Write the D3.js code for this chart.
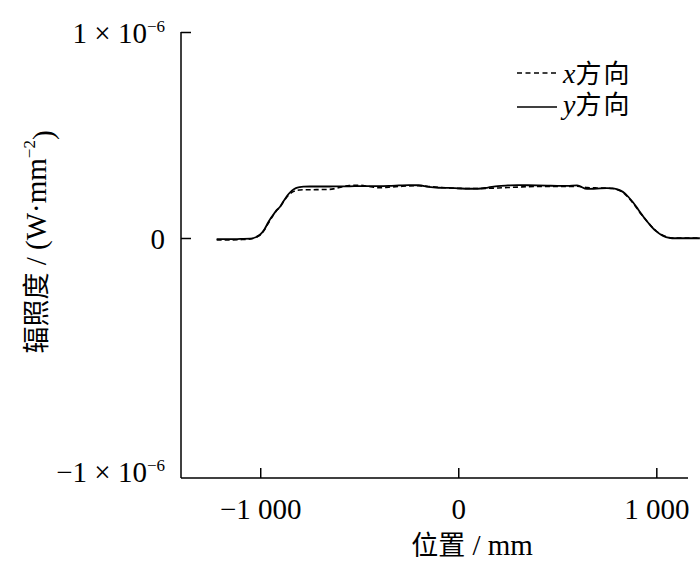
<!DOCTYPE html>
<html>
<head>
<meta charset="utf-8">
<script src="https://cdn.jsdelivr.net/npm/d3@7"></script>
<style>
  html, body { margin: 0; padding: 0; background: #fff; }
  svg { display: block; }
  text { font-family: "Liberation Serif", "Times New Roman", "Noto Sans CJK SC", serif; fill: #000; }
</style>
</head>
<body>
<svg id="chart" width="700" height="565"></svg>
<script>
// ---------- data ----------
const positions = [-1220, -1150, -1100, -1050, -1020, -1000, -980, -960, -940, -920, -900, -880, -860, -840, -820, -800, -780, -750, -700, -650, -600, -550, -500, -450, -400, -350, -300, -250, -200, -150, -100, -50, 0, 50, 100, 150, 200, 250, 300, 350, 400, 450, 500, 550, 600, 650, 700, 750, 780, 800, 820, 840, 860, 880, 900, 920, 940, 960, 980, 1000, 1020, 1040, 1060, 1080, 1100, 1150, 1220];

// irradiance, in units of 1e-6 W·mm^-2
const yDirection = [-0.005, -0.005, -0.004, -0.003, 0.005, 0.017, 0.040, 0.075, 0.105, 0.132, 0.152, 0.182, 0.210, 0.230, 0.242, 0.247, 0.249, 0.250, 0.250, 0.250, 0.251, 0.251, 0.252, 0.252, 0.252, 0.253, 0.255, 0.257, 0.256, 0.248, 0.244, 0.243, 0.241, 0.239, 0.239, 0.245, 0.252, 0.255, 0.257, 0.256, 0.255, 0.254, 0.253, 0.253, 0.255, 0.238, 0.240, 0.242, 0.241, 0.237, 0.230, 0.218, 0.198, 0.176, 0.150, 0.122, 0.097, 0.073, 0.050, 0.032, 0.018, 0.008, 0.002, -0.001, -0.001, -0.001, -0.001];

const xDirection = [-0.008, -0.008, -0.007, -0.004, 0.004, 0.015, 0.038, 0.070, 0.102, 0.130, 0.150, 0.180, 0.205, 0.222, 0.230, 0.233, 0.234, 0.234, 0.235, 0.236, 0.245, 0.255, 0.256, 0.250, 0.244, 0.247, 0.250, 0.253, 0.254, 0.250, 0.246, 0.243, 0.241, 0.240, 0.240, 0.241, 0.243, 0.245, 0.247, 0.249, 0.250, 0.250, 0.250, 0.250, 0.251, 0.245, 0.243, 0.242, 0.240, 0.236, 0.228, 0.214, 0.195, 0.172, 0.147, 0.120, 0.096, 0.073, 0.052, 0.034, 0.020, 0.010, 0.003, 0.000, 0.000, 0.000, 0.000];

const xTickValues = [-1000, 0, 1000];
const xTickLabels = ["\u22121 000", "0", "1 000"];
const yTickValues = [-1, 0, 1];            // ×1e-6
const yTickMantissa = ["\u22121 \u00d7 10", "0", "1 \u00d7 10"];
const yTickExponent = ["\u22126", "", "\u22126"];
const seriesNames = ["x", "y"];
const legendSuffix = "方向";

// ---------- layout ----------
const svg = d3.select("#chart");
const mLeft = 181, mRight = 688, mTop = 32, mBottom = 478;
const fs = 29;

const x = d3.scaleLinear().domain([-1400, 1160]).range([mLeft, mRight]);
const y = d3.scaleLinear().domain([-1, 0, 1]).range([471, 238, mTop]);

// axes lines
svg.append("line").attr("x1", mLeft).attr("x2", mLeft).attr("y1", y(1)).attr("y2", mBottom)
  .attr("stroke", "#000").attr("stroke-width", 1.5);
svg.append("line").attr("x1", mLeft).attr("x2", mRight).attr("y1", mBottom).attr("y2", mBottom)
  .attr("stroke", "#000").attr("stroke-width", 1.5);

// x axis
const xAxis = d3.axisBottom(x).tickValues(xTickValues).tickSize(-10).tickPadding(20)
  .tickFormat((d, i) => xTickLabels[i]);
const gx = svg.append("g").attr("transform", `translate(0,${mBottom})`).call(xAxis);
gx.select(".domain").remove();
gx.selectAll(".tick line").attr("stroke-width", 1.5);
gx.selectAll(".tick text").attr("font-size", fs).attr("font-family", "Liberation Serif");

// y axis
const yAxis = d3.axisLeft(y).tickValues(yTickValues).tickSize(-10).tickPadding(16)
  .tickFormat(() => "");
const gy = svg.append("g").attr("transform", `translate(${mLeft},0)`).call(yAxis);
gy.select(".domain").remove();
gy.selectAll(".tick line").attr("stroke-width", 1.5)
  .attr("opacity", d => d === -1 ? 0 : 1);
gy.selectAll(".tick text").each(function(d, i) {
  const t = d3.select(this).attr("font-size", fs).attr("font-family", "Liberation Serif").attr("dy", "0.36em");
  t.append("tspan").text(yTickMantissa[i]);
  if (yTickExponent[i]) {
    t.append("tspan").attr("font-size", 17).attr("dy", "-0.62em").text(yTickExponent[i]);
  }
});

// lines
const line = d3.line().x((d, i) => x(positions[i])).y(d => y(d)).curve(d3.curveMonotoneX);
svg.append("path").datum(xDirection).attr("d", line).attr("fill", "none")
  .attr("stroke", "#000").attr("stroke-width", 1.6).attr("stroke-dasharray", "5,3");
svg.append("path").datum(yDirection).attr("d", line).attr("fill", "none")
  .attr("stroke", "#000").attr("stroke-width", 1.8);

// legend
const legend = svg.append("g");
const rows = [{name: seriesNames[0], ly: 73, ty: 83, dash: "5,3.5"}, {name: seriesNames[1], ly: 107, ty: 114, dash: null}];
rows.forEach(r => {
  legend.append("line").attr("x1", 517).attr("x2", 557).attr("y1", r.ly).attr("y2", r.ly)
    .attr("stroke", "#000").attr("stroke-width", 1.5).attr("stroke-dasharray", r.dash);
  const t = legend.append("text").attr("x", 563).attr("y", r.ty).attr("font-size", 26)
    .attr("font-family", "Liberation Serif, Noto Sans CJK SC");
  t.append("tspan").attr("font-style", "italic").attr("font-size", 28).text(r.name);
  t.append("tspan").attr("letter-spacing", 2).text(legendSuffix);
});

// x title
const xt = svg.append("text").attr("x", 472).attr("y", 555).attr("text-anchor", "middle").attr("font-size", fs);
xt.append("tspan").attr("font-family", "Noto Sans CJK SC").attr("font-size", 27).text("位置");
xt.append("tspan").text(" / mm");

// y title
const yt = svg.append("text").attr("transform", "translate(46,242) rotate(-90)")
  .attr("text-anchor", "middle").attr("font-size", fs);
yt.append("tspan").attr("font-family", "Noto Sans CJK SC").attr("font-size", 27).text("辐照度");
yt.append("tspan").text(" / (W\u00b7mm");
yt.append("tspan").attr("font-size", 17).attr("dy", "-0.62em").text("\u22122");
yt.append("tspan").attr("dy", "0.62em").attr("font-size", fs).text(")");
</script>
</body>
</html>
